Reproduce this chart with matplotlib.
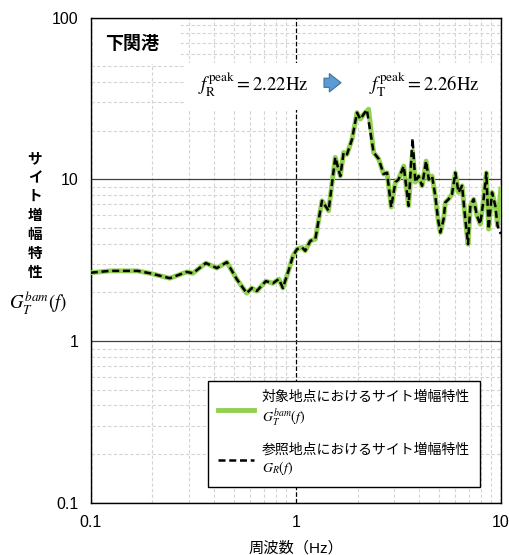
import numpy as np
import matplotlib
matplotlib.use('Agg')
from matplotlib import pyplot as plt
from matplotlib.patches import Rectangle

plt.rcParams['font.family'] = ['Liberation Sans', 'Noto Sans CJK JP', 'DejaVu Sans']
plt.rcParams['mathtext.fontset'] = 'stix'

# site amplification, target site (green)
freq_t = [0.1, 0.124, 0.169, 0.194, 0.243, 0.294, 0.315, 0.364, 0.412, 0.461,
          0.515, 0.576, 0.610, 0.645, 0.714, 0.773, 0.826, 0.865, 0.933, 0.967,
          1.014, 1.072, 1.112, 1.177, 1.245, 1.342, 1.445, 1.558, 1.649, 1.711,
          1.777, 1.880, 1.988, 2.064, 2.142, 2.265, 2.396, 2.535, 2.68, 2.786,
          2.92, 3.06, 3.17, 3.36, 3.55, 3.71, 3.83, 3.97, 4.13, 4.32,
          4.45, 4.62, 4.79, 4.94, 5.07, 5.26, 5.36, 5.56, 5.78, 6.00,
          6.22, 6.47, 6.71, 6.92, 7.10, 7.37, 7.65, 7.94, 8.24, 8.50,
          8.72, 9.06, 9.40, 9.64, 10.0]
amp_t = [2.65, 2.72, 2.72, 2.63, 2.45, 2.68, 2.63, 3.04, 2.83, 3.08,
         2.42, 1.98, 2.13, 2.04, 2.35, 2.28, 2.42, 2.13, 2.86, 3.35,
         3.71, 3.80, 3.62, 4.17, 4.27, 7.38, 6.40, 13.7, 10.5, 14.7,
         14.3, 17.7, 25.9, 23.6, 25.3, 27.2, 14.7, 13.4, 10.8, 11.0,
         6.74, 9.62, 10.0, 12.1, 6.87, 15.0, 9.62, 10.5, 9.13, 13.0,
         10.0, 10.5, 7.92, 5.68, 4.70, 5.68, 7.21, 7.55, 8.11, 11.0,
         8.31, 9.13, 5.68, 3.98, 6.87, 7.55, 5.96, 5.29, 7.55, 11.0,
         4.93, 8.31, 6.87, 5.17, 8.71]

# site amplification, reference site (black dashed)
freq_r = [0.1, 0.124, 0.169, 0.194, 0.243, 0.294, 0.315, 0.364, 0.412, 0.461,
          0.515, 0.576, 0.610, 0.645, 0.714, 0.773, 0.826, 0.865, 0.933, 0.967,
          1.014, 1.072, 1.112, 1.177, 1.245, 1.342, 1.445, 1.558, 1.649, 1.711,
          1.777, 1.880, 1.988, 2.064, 2.142, 2.22, 2.396, 2.535, 2.68, 2.786,
          2.92, 3.06, 3.17, 3.36, 3.55, 3.71, 3.83, 3.97, 4.13, 4.32,
          4.45, 4.62, 4.79, 4.94, 5.07, 5.26, 5.36, 5.56, 5.78, 6.00,
          6.22, 6.47, 6.71, 6.92, 7.10, 7.37, 7.65, 7.94, 8.24, 8.50,
          8.72, 9.06, 9.40, 9.64, 10.0]
amp_r = [2.65, 2.72, 2.72, 2.63, 2.45, 2.68, 2.63, 3.04, 2.83, 3.08,
         2.42, 1.98, 2.13, 2.04, 2.35, 2.28, 2.42, 2.13, 2.86, 3.35,
         3.71, 3.80, 3.62, 4.17, 4.27, 7.38, 6.40, 13.7, 10.5, 14.7,
         14.3, 17.7, 25.9, 23.6, 25.3, 27.0, 14.7, 13.4, 10.8, 11.0,
         6.74, 9.62, 10.0, 12.1, 6.87, 17.9, 9.62, 10.5, 9.13, 13.0,
         10.0, 10.5, 7.92, 5.68, 4.70, 5.68, 7.21, 7.55, 8.11, 11.0,
         8.31, 9.13, 5.68, 3.98, 6.87, 7.55, 5.96, 5.29, 7.55, 11.0,
         4.93, 8.31, 6.87, 5.17, 4.6]

xticks = [0.1, 1, 10]
xlabels = ['0.1', '1', '10']
yticks = [0.1, 1, 10, 100]
ylabels = ['0.1', '1', '10', '100']

fig = plt.figure(figsize=(5.1, 5.55), dpi=100)
ax = fig.add_axes([0.178, 0.094, 0.804, 0.874])
ax.set_xscale('log')
ax.set_yscale('log')
ax.set_xlim(0.1, 10)
ax.set_ylim(0.1, 100)

ax.grid(which='minor', color='#d4d4d4', ls=(0, (3, 2)), lw=0.8)
ax.yaxis.grid(True, which='major', color='#404040', ls='-', lw=0.9)
ax.xaxis.grid(True, which='major', color='black', ls='--', lw=0.9)
ax.set_axisbelow(True)

ax.set_xticks(xticks)
ax.set_xticklabels(xlabels)
ax.set_yticks(yticks)
ax.set_yticklabels(ylabels)
ax.tick_params(which='both', length=0, labelsize=11.5)
ax.tick_params(axis='x', pad=9)
ax.tick_params(axis='y', pad=9)
for s in ax.spines.values():
    s.set_linewidth(1.0)

# white boxes behind the annotations
ax.add_patch(Rectangle((0.005, 0.905), 0.215, 0.09, transform=ax.transAxes,
                       fc='white', ec='none', zorder=1))
ax.add_patch(Rectangle((0.229, 0.81), 0.77, 0.097, transform=ax.transAxes,
                       fc='white', ec='none', zorder=1))

ax.plot(freq_t, amp_t, color='#92D050', lw=3.5, zorder=3,
        label='対象地点におけるサイト増幅特性\n$G_T^{bam}(f)$')
ax.plot(freq_r, amp_r, color='black', lw=1.8, ls=(0, (2.8, 1.5)), zorder=4,
        label='参照地点におけるサイト増幅特性\n$G_R(f)$')

ax.text(0.034, 0.944, '下関港', transform=ax.transAxes, fontsize=13,
        fontweight='bold', ha='left', va='center', zorder=5)
ax.text(0.395, 0.862, r'$f_{\mathrm{R}}^{\mathrm{peak}}=2.22\mathrm{Hz}$',
        transform=ax.transAxes, fontsize=13.5, ha='center', va='center', zorder=5)
ax.text(0.812, 0.862, r'$f_{\mathrm{T}}^{\mathrm{peak}}=2.26\mathrm{Hz}$',
        transform=ax.transAxes, fontsize=13.5, ha='center', va='center', zorder=5)
ax.annotate('', xy=(0.617, 0.866), xytext=(0.562, 0.866), xycoords='axes fraction',
            arrowprops=dict(arrowstyle='simple,head_width=1.1,head_length=0.7,tail_width=0.55',
                            fc='#5B9BD5', ec='#41719C', lw=0.8, mutation_scale=12),
            zorder=5)

leg = ax.legend(loc='lower right', bbox_to_anchor=(0.949, 0.033), borderaxespad=0,
                fancybox=False, edgecolor='black', framealpha=1, fontsize=10,
                handlelength=2.6, handletextpad=0.6, labelspacing=1.0, borderpad=0.7)
leg.get_frame().set_linewidth(1.0)
leg.set_zorder(6)

fig.text(35 / 510, 1 - 216 / 555, 'サ\nイ\nト\n増\n幅\n特\n性', fontsize=10.5,
         fontweight='bold', ha='center', va='center', linespacing=1.45)
fig.text(38 / 510, 1 - 303 / 555, r'$G_T^{bam}(f)$', fontsize=13.5,
         ha='center', va='center')
fig.text(296 / 510, 1 - 548 / 555, '周波数（Hz）', fontsize=11,
         ha='center', va='center')

fig.savefig('out.png', dpi=100)
